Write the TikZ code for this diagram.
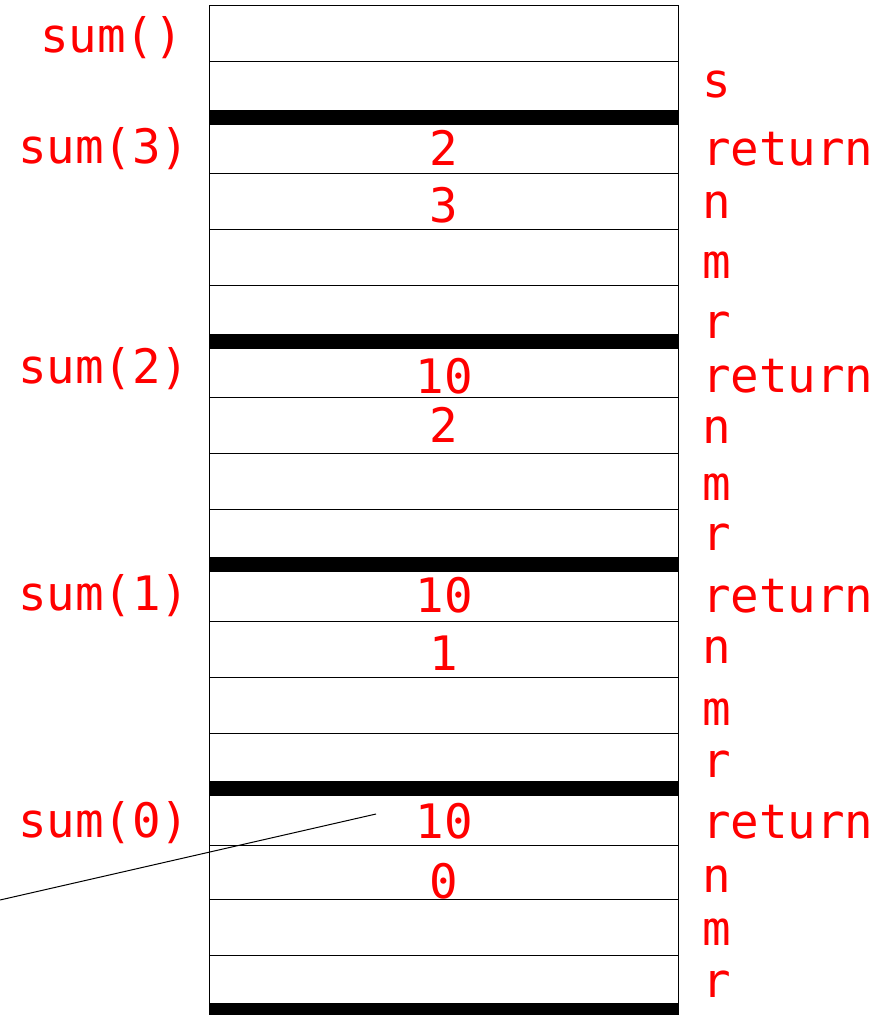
\documentclass[tikz,border=0pt]{standalone}
\usepackage{fontspec}
\newfontfamily\stackmono{DejaVu Sans Mono}
\definecolor{lab}{RGB}{255,0,0}
\tikzset{
  txt/.style={font=\stackmono\fontsize{47.5}{47.5}\selectfont, text=lab, inner sep=0pt, outer sep=0pt},
  lefttxt/.style={txt, anchor=base west},
  righttxt/.style={txt, anchor=base west},
  valtxt/.style={txt, anchor=base},
  rowline/.style={draw=black, line width=1pt},
  bar/.style={fill=black, draw=none},
  pointer/.style={draw=black, line width=1pt}
}
\begin{document}
\begin{tikzpicture}[x=1pt,y=-1pt]
\useasboundingbox (0,0) rectangle (875,1015);
% outer box sides
\draw[rowline] (209.5,5) -- (678.5,5);
\draw[rowline] (209.5,5) -- (209.5,1015);
\draw[rowline] (678.5,5) -- (678.5,1015);
% thin row lines
\foreach \y in {61,173,229,285,397,453,509,621,677,733,845,899,955}
  \draw[rowline] (209.5,\y) -- (678.5,\y);
% thick frame bars
\foreach \y in {110,334,557,781,1003}
  \fill[bar] (209.5,\y) rectangle (678.5,\y+14.5);
% left labels
\node[lefttxt] (Lmain) at (40,52) {sum()};
\node[lefttxt] (L3) at (18,163) {sum(3)};
\node[lefttxt] (L2) at (18,383) {sum(2)};
\node[lefttxt] (L1) at (18,610) {sum(1)};
\node[lefttxt] (L0) at (18,837) {sum(0)};
% values
\node[valtxt] (v3r) at (444,165) {2};
\node[valtxt] (v3n) at (444,222) {3};
\node[valtxt] (v2r) at (444,393) {10};
\node[valtxt] (v2n) at (444,442) {2};
\node[valtxt] (v1r) at (444,612) {10};
\node[valtxt] (v1n) at (444,670) {1};
\node[valtxt] (v0r) at (444,838) {10};
\node[valtxt] (v0n) at (444,898) {0};
% right labels
\node[righttxt] (s) at (702,97) {s};
\node[righttxt] (ret3) at (702,165) {return};
\node[righttxt] (n3) at (702,218) {n};
\node[righttxt] (m3) at (702,278) {m};
\node[righttxt] (r3) at (702,338) {r};
\node[righttxt] (ret2) at (702,392) {return};
\node[righttxt] (n2) at (702,443) {n};
\node[righttxt] (m2) at (702,500) {m};
\node[righttxt] (r2) at (702,550) {r};
\node[righttxt] (ret1) at (702,612) {return};
\node[righttxt] (n1) at (702,663) {n};
\node[righttxt] (m1) at (702,725) {m};
\node[righttxt] (r1) at (702,777) {r};
\node[righttxt] (ret0) at (702,838) {return};
\node[righttxt] (n0) at (702,892) {n};
\node[righttxt] (m0) at (702,945) {m};
\node[righttxt] (r0) at (702,997) {r};
% pointer line
\coordinate (pA) at (376,814);
\coordinate (pB) at (0,900);
\draw[pointer] (pA) -- (pB);
\end{tikzpicture}
\end{document}
